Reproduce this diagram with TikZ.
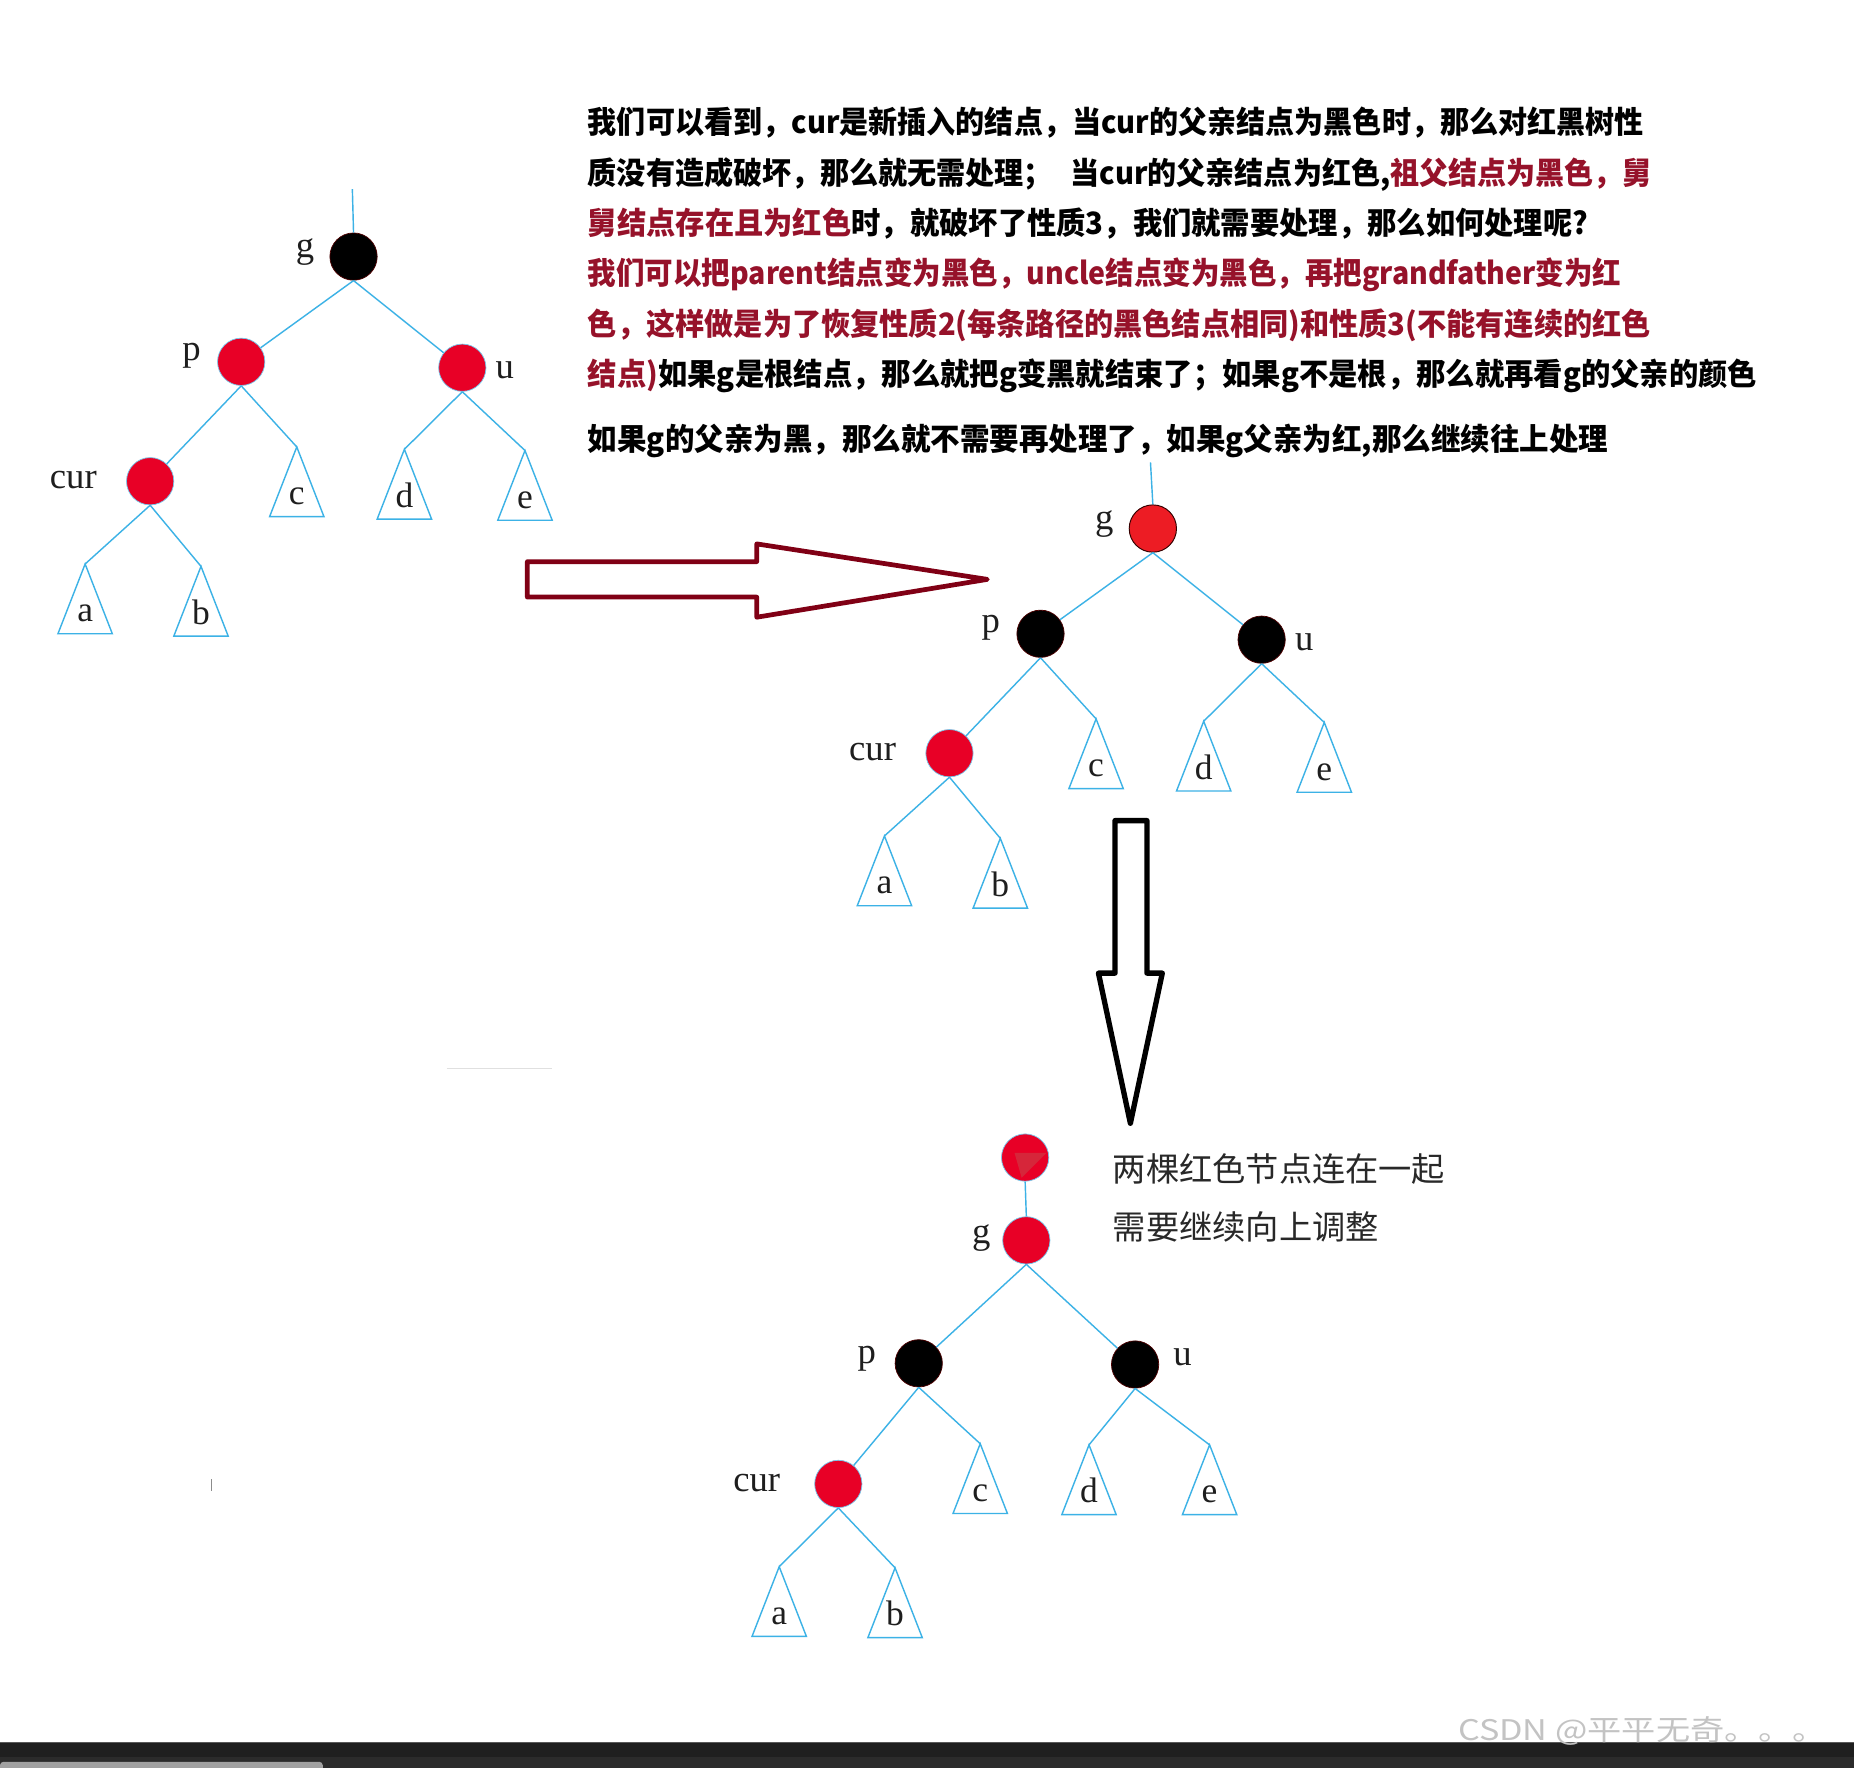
\documentclass[tikz,border=0pt]{standalone}
\usepackage{fontspec}
\usepackage{graphicx}
\setmainfont{Liberation Serif}
\newfontfamily\cjk{Noto Sans CJK SC}
\newfontfamily\lserif{Liberation Serif}
\definecolor{tedgec}{RGB}{60,178,230}
\definecolor{nred}{RGB}{232,0,38}
\definecolor{nredb}{RGB}{237,28,36}
\definecolor{patchc}{RGB}{214,38,58}
\definecolor{tred}{RGB}{150,18,42}
\definecolor{ared}{RGB}{128,0,21}
\definecolor{labc}{RGB}{30,30,30}
\definecolor{notec}{RGB}{40,40,40}
\definecolor{wmc}{RGB}{195,195,195}
\newlength\fitlen
\newcommand\fitline[2]{\settowidth\fitlen{#2}\pgfmathsetmacro\fitsx{#1/\fitlen}\scalebox{\fitsx}[1]{#2}}
\tikzset{
  tedge/.style={draw=tedgec, line width=1.2},
  rnode/.style={circle, fill=nred, draw=tedgec!70, line width=0.6, minimum size=40, inner sep=0},
  rnodeb/.style={circle, fill=nredb, draw=black!80!red, line width=0.8, minimum size=40, inner sep=0},
  bnode/.style={circle, fill=black, draw=black!70!red, line width=0.6, minimum size=40, inner sep=0},
  lab/.style={font=\lserif\fontsize{31}{31}\selectfont, text=labc, inner sep=0, anchor=base},
  leaf/.style={font=\lserif\fontsize{30}{30}\selectfont, text=labc, inner sep=0, anchor=base},
  txt/.style={font=\cjk\bfseries\fontsize{26}{26}\selectfont, text=black, inner sep=0, anchor=base west},
  note/.style={font=\cjk\fontsize{28}{28}\selectfont, text=notec, inner sep=0, anchor=base west},
}
\newcommand\tri[4]{%
  \coordinate (#1) at (#2,#3);
  \draw[tedge] (#1) -- ++(-23,59) -- ++(46,0) -- cycle;
  \node[leaf] (#1l) at (#2,#3+49) {#4};}
\begin{document}
\begin{tikzpicture}[x=1pt, y=-1pt]
\useasboundingbox (0,0) rectangle (1568,1495);
\fill[white] (0,0) rectangle (1568,1495);

% ---------- text block ----------
\node[txt] (t1) at (497,113) {\fitline{893}{我们可以看到，cur是新插入的结点，当cur的父亲结点为黑色时，那么对红黑树性}};
\node[txt] (t2) at (497,156) {\fitline{900}{质没有造成破坏，那么就无需处理；\hspace{0.6em}当cur的父亲结点为红色,\textcolor{tred}{祖父结点为黑色，舅}}};
\node[txt] (t3) at (497,198) {\fitline{846}{\textcolor{tred}{舅结点存在且为红色}时，就破坏了性质3，我们就需要处理，那么如何处理呢?}};
\node[txt, text=tred] (t4) at (497,241) {\fitline{874}{我们可以把parent结点变为黑色，uncle结点变为黑色，再把grandfather变为红}};
\node[txt, text=tred] (t5) at (497,284) {\fitline{899}{色，这样做是为了恢复性质2(每条路径的黑色结点相同)和性质3(不能有连续的红色}};
\node[txt] (t6) at (497,326) {\fitline{989}{\textcolor{tred}{结点)}如果g是根结点，那么就把g变黑就结束了；如果g不是根，那么就再看g的父亲的颜色}};
\node[txt] (t7) at (497,381) {\fitline{863}{如果g的父亲为黑，那么就不需要再处理了，如果g父亲为红,那么继续往上处理}};

% ---------- tree 1 ----------
\coordinate (r1) at (298,160);
\node[bnode] (g1) at (299,217) {};
\node[rnode] (p1) at (204,306) {};
\node[rnode] (u1) at (391,311) {};
\node[rnode] (cur1) at (127,407) {};
\draw[tedge] (r1) -- (g1.north);
\draw[tedge] (g1.south) -- (p1);
\draw[tedge] (g1.south) -- (u1);
\draw[tedge] (p1.south) -- (cur1);
\tri{c1}{251}{378}{c}
\tri{d1}{342}{380}{d}
\tri{e1}{444}{381}{e}
\tri{a1}{72}{477}{a}
\tri{b1}{170}{479}{b}
\draw[tedge] (p1.south) -- (c1);
\draw[tedge] (u1.south) -- (d1);
\draw[tedge] (u1.south) -- (e1);
\draw[tedge] (cur1.south) -- (a1);
\draw[tedge] (cur1.south) -- (b1);
\node[lab] (lg1) at (258,218) {g};
\node[lab] (lp1) at (162,305) {p};
\node[lab] (lu1) at (427,320) {u};
\node[lab] (lc1) at (62,413.5) {cur};

% ---------- red arrow ----------
\draw[ared, line width=4, line join=round] (446,475) -- (640,475) -- (640,460) -- (835,490) -- (640,522) -- (640,505) -- (446,505) -- cycle;

% ---------- tree 2 ----------
\coordinate (r2) at (973,391);
\node[rnodeb] (g2) at (975,447) {};
\node[bnode] (p2) at (880,536) {};
\node[bnode] (u2) at (1067,541) {};
\node[rnode] (cur2) at (803,637) {};
\draw[tedge] (r2) -- (g2.north);
\draw[tedge] (g2.south) -- (p2);
\draw[tedge] (g2.south) -- (u2);
\draw[tedge] (p2.south) -- (cur2);
\tri{c2}{927}{608}{c}
\tri{d2}{1018}{610}{d}
\tri{e2}{1120}{611}{e}
\tri{a2}{748}{707}{a}
\tri{b2}{846}{709}{b}
\draw[tedge] (p2.south) -- (c2);
\draw[tedge] (u2.south) -- (d2);
\draw[tedge] (u2.south) -- (e2);
\draw[tedge] (cur2.south) -- (a2);
\draw[tedge] (cur2.south) -- (b2);
\node[lab] (lg2) at (934,448) {g};
\node[lab] (lp2) at (838,535) {p};
\node[lab] (lu2) at (1103,550) {u};
\node[lab] (lc2) at (738,643.5) {cur};

% ---------- black arrow ----------
\draw[black, line width=4.5, line join=round] (943,694) -- (970,694) -- (970,823) -- (983,823) -- (956,950) -- (929,823) -- (943,823) -- cycle;

% ---------- tree 3 ----------
\node[rnode] (gg3) at (867,979) {};
\fill[patchc] (858,975) -- (885,975) -- (864,996) -- cycle;
\node[rnode] (g3) at (868,1049) {};
\node[bnode] (p3) at (777,1153) {};
\node[bnode] (u3) at (960,1154) {};
\node[rnode] (cur3) at (709,1255) {};
\draw[tedge] (gg3.south) -- (g3.north);
\draw[tedge] (g3.south) -- (p3);
\draw[tedge] (g3.south) -- (u3);
\draw[tedge] (p3.south) -- (cur3);
\tri{c3}{829}{1221}{c}
\tri{d3}{921}{1222}{d}
\tri{e3}{1023}{1222}{e}
\tri{a3}{659}{1325}{a}
\tri{b3}{757}{1326}{b}
\draw[tedge] (p3.south) -- (c3);
\draw[tedge] (u3.south) -- (d3);
\draw[tedge] (u3.south) -- (e3);
\draw[tedge] (cur3.south) -- (a3);
\draw[tedge] (cur3.south) -- (b3);
\node[lab] (lg3) at (830,1052) {g};
\node[lab] (lp3) at (733,1153) {p};
\node[lab] (lu3) at (1000,1155) {u};
\node[lab] (lc3) at (640,1261) {cur};

\node[note] (n1) at (941,999) {\fitline{281}{两棵红色节点连在一起}};
\node[note] (n2) at (941,1048) {\fitline{225}{需要继续向上调整}};

% ---------- faint marks ----------
\draw[black!12, line width=1] (378,904) -- (467,904);
\draw[black!45, line width=1] (179,1251) -- (179,1261);

% ---------- bottom bar and watermark ----------
\fill[black!88] (0,1474) rectangle (1568,1486);
\fill[black!83] (0,1486) rectangle (1568,1495);
\draw[black!65, line width=1] (0,1474) -- (1568,1474);
\fill[black!37, rounded corners=3] (0,1490) rectangle (273,1500);
\node[font=\cjk\fontsize{24}{24}\selectfont, text=wmc, inner sep=0, anchor=base west] (wm) at (1233,1472) {\fitline{312}{CSDN @平平无奇。。。}};
\end{tikzpicture}
\end{document}
